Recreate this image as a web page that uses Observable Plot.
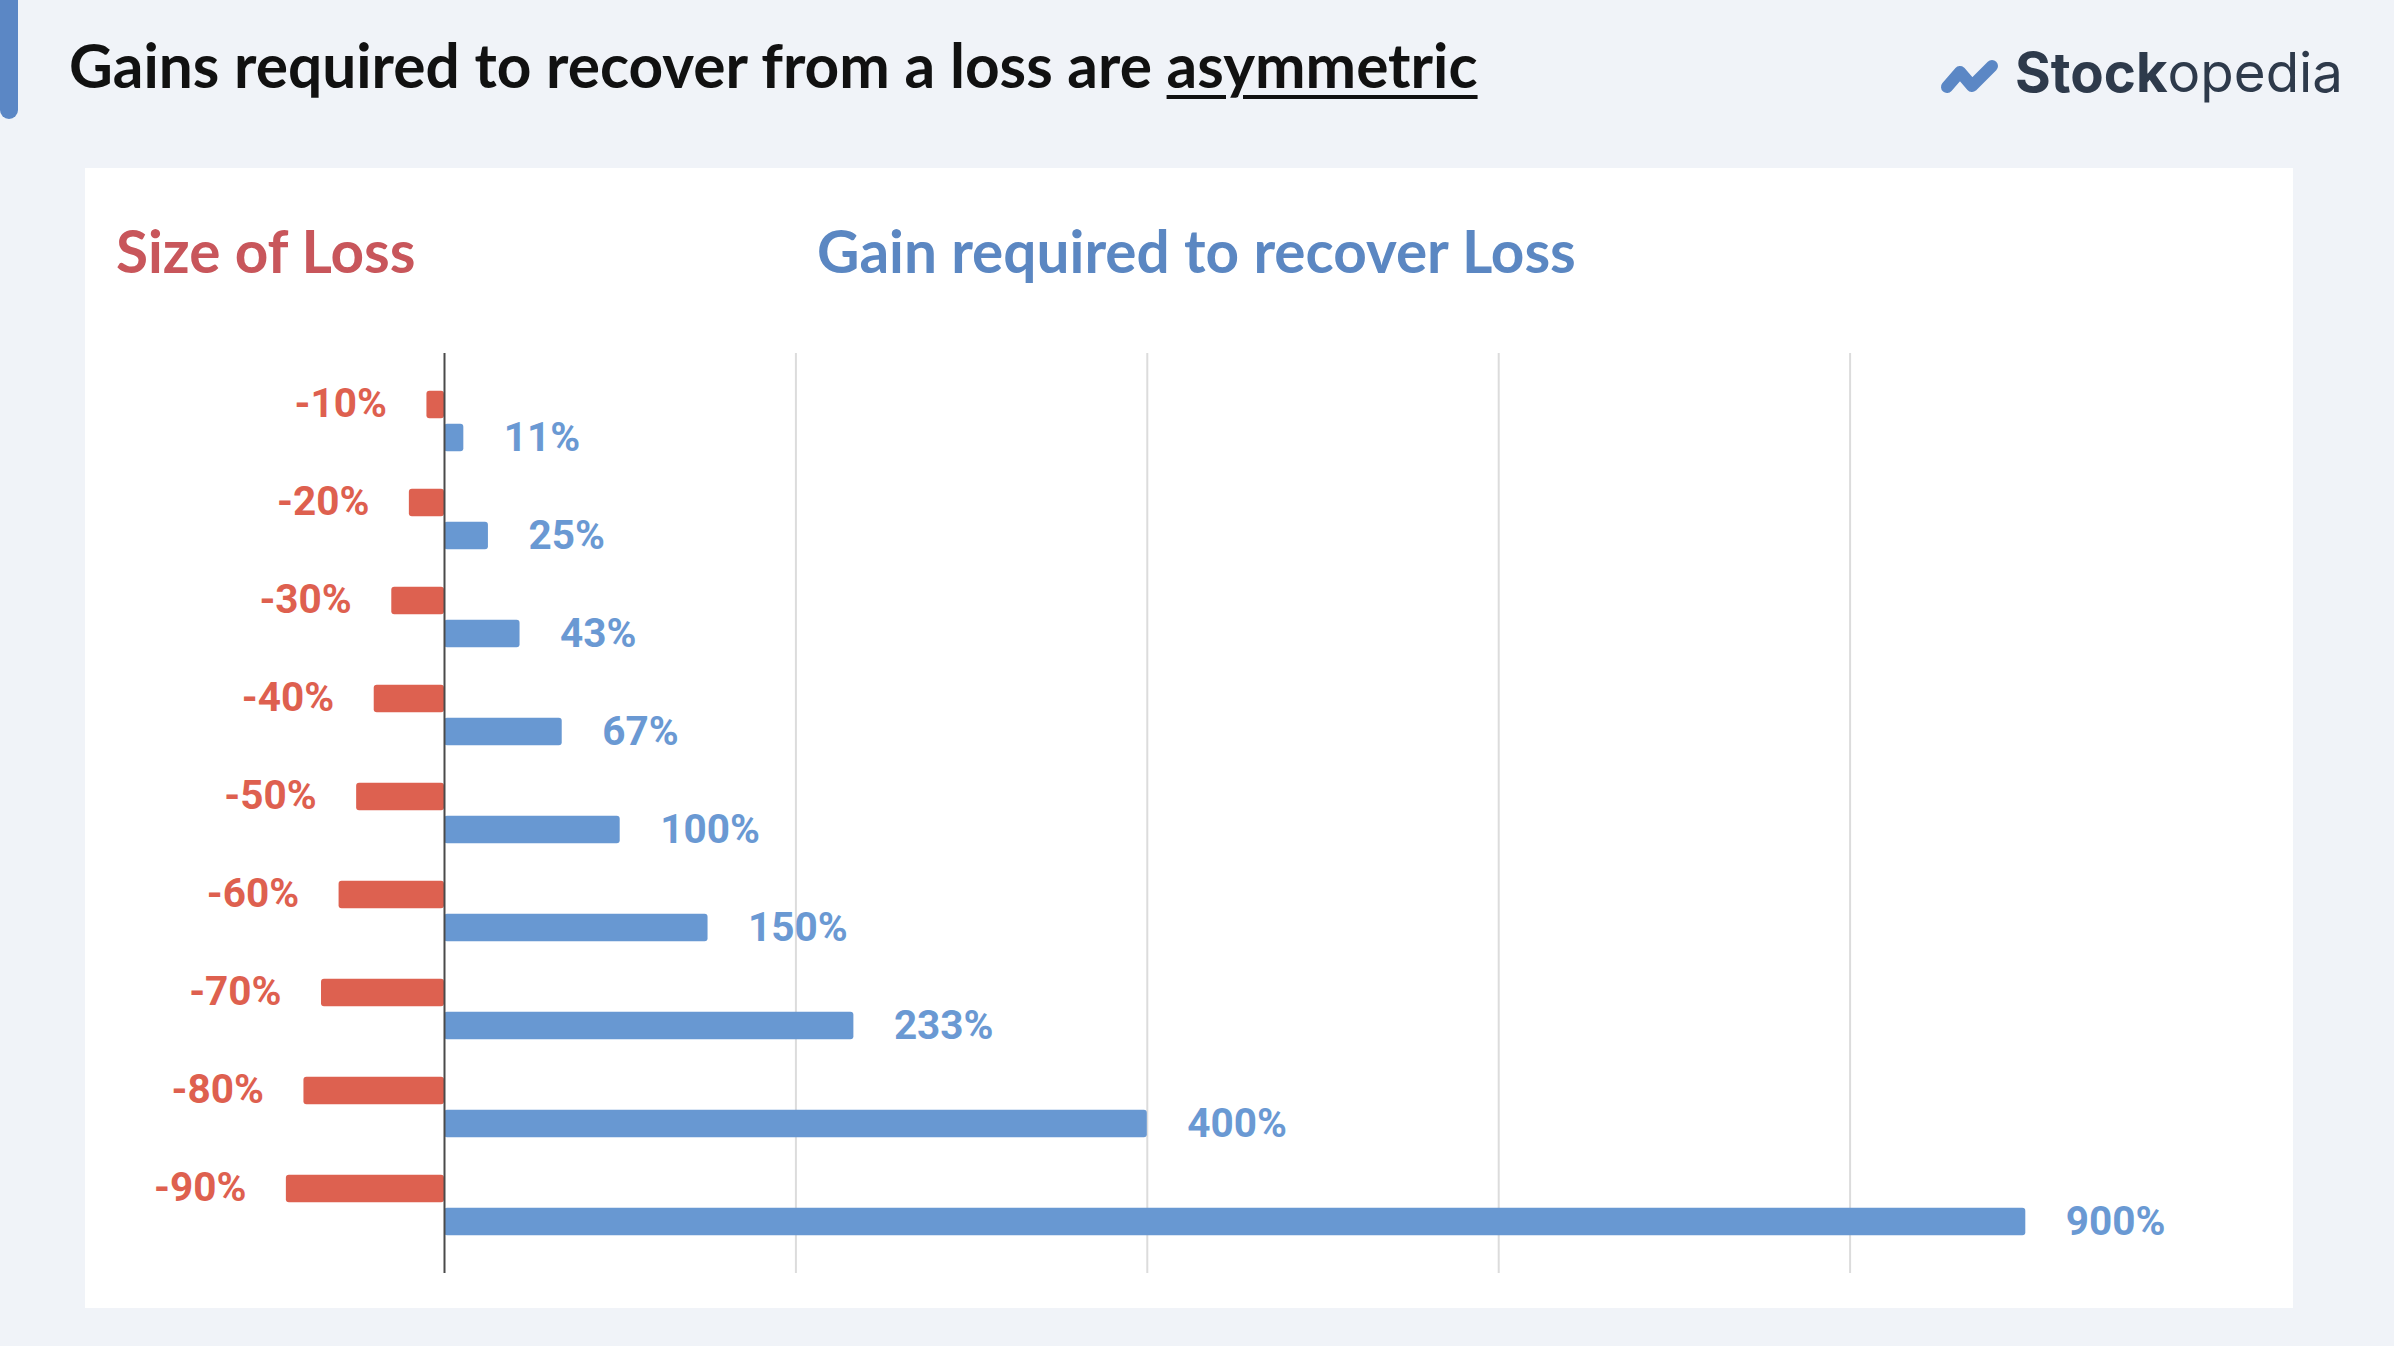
<!DOCTYPE html>
<html><head><meta charset="utf-8">
<script src="https://cdn.jsdelivr.net/npm/d3@7"></script>
<script src="https://cdn.jsdelivr.net/npm/@observablehq/plot@0.6"></script>
<style>
html,body{margin:0;padding:0;}
body{width:2394px;height:1346px;background:#f0f3f8;position:relative;overflow:hidden;font-family:Lato, sans-serif;}
#accent{position:absolute;left:0;top:-12px;width:18px;height:131px;background:#5b87c5;border-radius:9px;}
#title{position:absolute;left:69px;top:35px;font-size:60.4px;line-height:60.4px;font-weight:700;color:#111;white-space:nowrap;}
#title u{text-decoration-thickness:4px;text-underline-offset:7px;}
#logo{position:absolute;left:1935px;top:40px;}
#panel{position:absolute;left:85px;top:168px;width:2208px;height:1140px;background:#fff;}
.head{position:absolute;font-size:58.5px;line-height:58.5px;font-weight:700;white-space:nowrap;}
#chart{position:absolute;left:0;top:0;}
</style>
</head>
<body>
<div id="accent"></div>
<div id="title">Gains required to recover from a loss are <u>asymmetric</u></div>
<svg id="logo" width="440" height="80">
  <polyline points="12,47 25,32 37,46 57,26" fill="none" stroke="#5b87c5" stroke-width="12" stroke-linecap="round" stroke-linejoin="round"/>
  <text id="lg" x="80" y="52" font-family="Inter" font-size="55" fill="#2e3a4b"><tspan font-weight="700">Stock</tspan><tspan font-weight="400">opedia</tspan></text>
</svg>
<div id="panel">
  <div class="head" id="h1" style="left:31px;top:53px;color:#c8565b;">Size of Loss</div>
  <div class="head" id="h2" style="left:732px;top:53px;color:#5b87c2;">Gain required to recover Loss</div>
  <div id="chart"></div>
</div>
<script>
const lossLabels = ["-10%","-20%","-30%","-40%","-50%","-60%","-70%","-80%","-90%"];
const lossValues = [-10,-20,-30,-40,-50,-60,-70,-80,-90];
const gainValues = [11,25,43,67,100,150,233,400,900];
const gainLabels = ["11%","25%","43%","67%","100%","150%","233%","400%","900%"];
const gridTicks = [200,400,600,800];

const data = lossLabels.map((c,i)=>({cat:c, loss:lossValues[i], gain:gainValues[i], gainLabel:gainLabels[i]}));

const W = 2208, H = 1140;
const mt = 185, mb = 35, padOuter = 0.166;
const step = (H - mt - mb) / (lossLabels.length + 2*padOuter);
const barH = 28, gap = 5;
const edge = (step - (2*barH + gap)) / 2;
const far = step - edge - barH;
const off = (barH + gap) / 2;

const chart = Plot.plot({
  width: W, height: H,
  marginTop: mt, marginBottom: mb, marginLeft: 95.45, marginRight: 92,
  style: {background: "transparent", overflow: "visible"},
  x: {domain: [-150, 1000], axis: null},
  y: {type: "band", domain: lossLabels, paddingInner: 0, paddingOuter: padOuter, axis: null},
  marks: [
    Plot.ruleX(gridTicks, {stroke: "#dcdcdc", strokeWidth: 2}),
    Plot.barX(data, {x: "loss", y: "cat", fill: "#dd6150", insetTop: edge, insetBottom: far, rx: 3}),
    Plot.barX(data, {x: "gain", y: "cat", fill: "#6898d2", insetTop: far, insetBottom: edge, rx: 3}),
    Plot.ruleX([0], {stroke: "#4a4a4a", strokeWidth: 2}),
    Plot.text(data, {x: "loss", y: "cat", text: "cat", textAnchor: "end", dx: -40, dy: -off - 1,
      fill: "#de604f", fontSize: 40.5, fontWeight: 700, fontFamily: "Roboto"}),
    Plot.text(data, {x: "gain", y: "cat", text: "gainLabel", textAnchor: "start", dx: 40, dy: off,
      fill: "#6a99d3", fontSize: 40.5, fontWeight: 700, fontFamily: "Roboto"})
  ]
});
document.getElementById("chart").appendChild(chart);

// fit logo wordmark to its width in the reference
const lg = document.getElementById("lg");
const w = lg.getComputedTextLength();
if (w > 0) lg.setAttribute("font-size", (55 * 328 / w).toFixed(2));
</script>
</body></html>
